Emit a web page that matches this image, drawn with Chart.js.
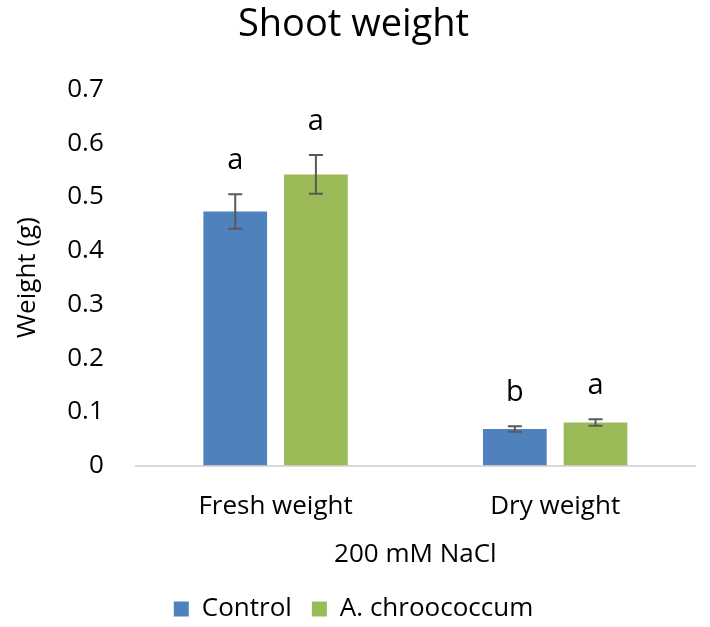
<!DOCTYPE html>
<html>
<head>
<meta charset="utf-8">
<script src="https://cdn.jsdelivr.net/npm/chart.js@4"></script>
<style>
  body { margin: 0; background: #fff; }
  #wrap { width: 710px; height: 627px; }
</style>
</head>
<body>
<div id="wrap"><canvas id="chart" width="710" height="627"></canvas></div>
<script>
const categories = ['Fresh weight', 'Dry weight'];
const controlValues = [0.473, 0.068];
const controlErrors = [0.032, 0.005];
const azotoValues = [0.542, 0.080];
const azotoErrors = [0.036, 0.006];
const controlLetters = ['a', 'b'];
const azotoLetters = ['a', 'a'];
const yTicks = [0, 0.1, 0.2, 0.3, 0.4, 0.5, 0.6, 0.7];

const FONT = 'Open Sans';

// error bars + significance letters
const errorBarPlugin = {
    id: 'errorBars',
    afterDatasetsDraw(chart) {
        const ctx = chart.ctx;
        const yScale = chart.scales.y;
        chart.data.datasets.forEach((ds, i) => {
            const meta = chart.getDatasetMeta(i);
            meta.data.forEach((bar, j) => {
                const v = ds.data[j];
                const e = ds.errors[j];
                const top = yScale.getPixelForValue(v + e);
                const bot = yScale.getPixelForValue(v - e);
                ctx.save();
                ctx.strokeStyle = '#595959';
                ctx.lineWidth = 2;
                ctx.beginPath();
                ctx.moveTo(bar.x, top);
                ctx.lineTo(bar.x, bot);
                ctx.moveTo(bar.x - 7, top);
                ctx.lineTo(bar.x + 7, top);
                ctx.moveTo(bar.x - 7, bot);
                ctx.lineTo(bar.x + 7, bot);
                ctx.stroke();
                ctx.fillStyle = '#000';
                ctx.font = '29px "' + FONT + '"';
                ctx.textAlign = 'center';
                ctx.textBaseline = 'alphabetic';
                ctx.fillText(ds.letters[j], bar.x, top - 25);
                ctx.restore();
            });
        });
    }
};

new Chart(document.getElementById('chart'), {
    type: 'bar',
    data: {
        labels: categories,
        datasets: [
            {
                label: 'Control',
                data: controlValues,
                errors: controlErrors,
                letters: controlLetters,
                backgroundColor: '#4F81BD',
                barPercentage: 0.79,
                categoryPercentage: 0.577
            },
            {
                label: 'A. chroococcum',
                data: azotoValues,
                errors: azotoErrors,
                letters: azotoLetters,
                backgroundColor: '#9BBB59',
                barPercentage: 0.79,
                categoryPercentage: 0.577
            }
        ]
    },
    options: {
        responsive: false,
        animation: false,
        layout: { padding: { left: 12, right: 15, top: 2, bottom: -5 } },
        plugins: {
            title: {
                display: true,
                text: 'Shoot weight',
                color: '#000',
                font: { family: FONT, size: 38, weight: 'normal' },
                padding: { top: 0, bottom: 42 }
            },
            legend: {
                position: 'bottom',
                labels: {
                    color: '#000',
                    boxWidth: 15,
                    boxHeight: 15,
                    font: { family: FONT, size: 26 },
                    padding: 20
                }
            },
            tooltip: { enabled: false }
        },
        scales: {
            x: {
                grid: { display: false },
                border: { color: '#d9d9d9', width: 2 },
                ticks: { color: '#000', font: { family: FONT, size: 26, lineHeight: 1.05 }, padding: 19 },
                title: {
                    display: true,
                    text: '200 mM NaCl',
                    color: '#000',
                    font: { family: FONT, size: 26 },
                    padding: { top: 0, bottom: 6 }
                }
            },
            y: {
                min: 0,
                max: 0.7,
                afterBuildTicks: axis => { axis.ticks = yTicks.map(v => ({ value: v })); },
                grid: { display: false },
                border: { display: false },
                ticks: {
                    color: '#000',
                    font: { family: FONT, size: 26 },
                    padding: 24,
                    callback: v => String(v)
                },
                title: {
                    display: true,
                    text: 'Weight (g)',
                    color: '#000',
                    font: { family: FONT, size: 26 },
                    padding: { top: 0, bottom: 0 }
                }
            }
        }
    },
    plugins: [errorBarPlugin]
});
</script>
</body>
</html>
